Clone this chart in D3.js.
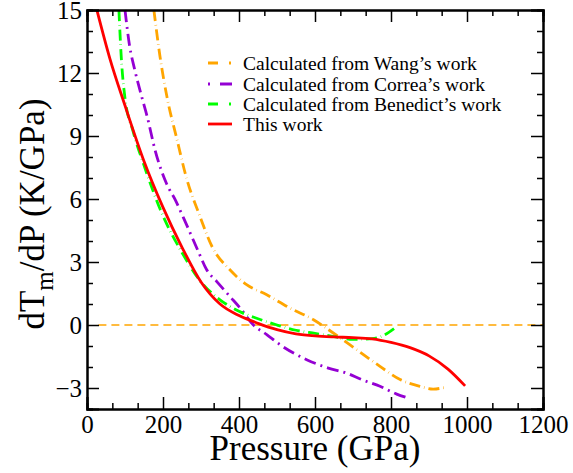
<!DOCTYPE html>
<html>
<head>
<meta charset="utf-8">
<script src="https://cdn.jsdelivr.net/npm/d3@7"></script>
<style>
  body { margin: 0; background: #fff; }
</style>
</head>
<body>
<div id="chart"></div>
<script>
// Data
const wangP = [176, 192, 210, 237, 263, 294, 330, 376, 420, 473, 534, 596, 648, 710, 771, 824, 876, 911, 947];
const wangV = [15, 12.8, 10.9, 8.82, 6.92, 5.33, 3.7, 2.63, 1.92, 1.44, 0.81, 0.25, -0.38, -1.18, -1.97, -2.6, -2.92, -3.05, -2.95];

const correaP = [100, 112, 125, 145, 158, 180, 210, 232, 254, 293, 315, 341, 376, 403, 438, 473, 508, 578, 635, 683, 723, 771, 815, 840];
const correaV = [15, 13.3, 12.2, 10.8, 9.95, 8.27, 6.7, 5.97, 5.1, 3.5, 2.63, 2.08, 1.36, 0.81, 0.0, -0.46, -0.94, -1.65, -2.05, -2.29, -2.6, -2.92, -3.29, -3.45];

const benedictP = [84, 90, 100, 120, 150, 200, 250, 300, 350, 400, 450, 500, 550, 600, 650, 700, 750, 780, 810];
const benedictV = [15, 12.8, 10.8, 9.3, 7.6, 5.2, 3.45, 2.05, 1.2, 0.65, 0.3, 0.0, -0.25, -0.4, -0.55, -0.68, -0.65, -0.5, -0.15];

const thisP = [26, 60, 100, 150, 200, 250, 300, 350, 400, 450, 500, 550, 600, 650, 700, 750, 800, 850, 900, 950, 995];
const thisV = [15, 12.7, 10.45, 7.8, 5.6, 3.7, 2.05, 1.0, 0.45, 0.08, -0.22, -0.42, -0.52, -0.57, -0.6, -0.66, -0.83, -1.08, -1.47, -2.1, -2.9];

const zeroP = [30, 1200];
const zeroV = [0, 0];

const xTicks = [0, 200, 400, 600, 800, 1000, 1200];
const yTicks = [-3, 0, 3, 6, 9, 12, 15];

const series = [
  { name: "Calculated from Wang\u2019s work", p: wangP, v: wangV, color: "#FFA500", dash: "11,4,0.5,4", legendDash: "10,11,2" },
  { name: "Calculated from Correa\u2019s work", p: correaP, v: correaV, color: "#9400D3", dash: "12,5,2,5", legendDash: "2,10,12" },
  { name: "Calculated from Benedict\u2019s work", p: benedictP, v: benedictV, color: "#00FF00", dash: "11,4,0.5,4", legendDash: "10,11,2" },
  { name: "This work", p: thisP, v: thisV, color: "#FF0000", dash: null, legendDash: null }
];

const FONT = '"Liberation Serif", "Times New Roman", Times, serif';

const W = 573, H = 473;
const margin = { left: 87, right: 30, top: 10, bottom: 64 };
const width = W - margin.left - margin.right;
const height = H - margin.top - margin.bottom;

const svg = d3.select('#chart')
  .append('svg')
  .attr('width', W)
  .attr('height', H)
  .style('font-family', FONT);

const g = svg.append('g')
  .attr('transform', `translate(${margin.left},${margin.top})`);

// Scales
const x = d3.scaleLinear().domain([0, 1200]).range([0, width]);
const y = d3.scaleLinear().domain([-4, 15]).range([height, 0]);

const xMinor = d3.range(0, 1201, 200 / 3).filter(d => Math.abs(d / 200 - Math.round(d / 200)) > 1e-6);
const yMinor = d3.range(-4, 16, 1).filter(d => d % 3 !== 0);

// Zero line
const line = d3.line()
  .x(d => x(d[0]))
  .y(d => y(d[1]));

g.append('path')
  .datum(zeroP.map((p, i) => [p, zeroV[i]]))
  .attr('fill', 'none')
  .attr('stroke', '#FFA500')
  .attr('stroke-width', 1.5)
  .attr('stroke-dasharray', '8,5')
  .attr('d', line);

// Curves
const curve = d3.line()
  .x(d => x(d[0]))
  .y(d => y(d[1]))
  .curve(d3.curveMonotoneX);

series.forEach(s => {
  g.append('path')
    .datum(s.p.map((p, i) => [p, s.v[i]]))
    .attr('fill', 'none')
    .attr('stroke', s.color)
    .attr('stroke-width', 2.8)
    .attr('stroke-dasharray', s.dash)
    .attr('d', curve);
});

// Axes (ticks pointing inward on all four sides)
function axisTicks(axisFn, scale, major, minor, tx, ty, showLabels, pad) {
  const a = g.append('g').attr('transform', `translate(${tx},${ty})`);
  a.call(axisFn(scale).tickValues(minor).tickSize(-6).tickFormat(''));
  a.append('g').call(axisFn(scale).tickValues(major).tickSize(-12).tickPadding(pad)
    .tickFormat(showLabels ? d3.format('d') : ''));
  a.selectAll('g').attr('font-family', null);
  a.attr('font-family', null);
  a.selectAll('.domain').attr('stroke', '#000').attr('stroke-width', 2).attr('fill', 'none');
  a.selectAll('line').attr('stroke', '#000').attr('stroke-width', 1.5);
  a.selectAll('text')
    .style('font-family', FONT)
    .style('font-size', '25px')
    .attr('fill', '#000');
  return a;
}

axisTicks(d3.axisBottom, x, xTicks, xMinor, 0, height, true, 6);
axisTicks(d3.axisTop, x, xTicks, xMinor, 0, 0, false, 8);
const yl = axisTicks(d3.axisLeft, y, yTicks, yMinor, 0, 0, true, 5);
yl.selectAll('text').attr('dy', '0.34em');
axisTicks(d3.axisRight, y, yTicks, yMinor, width, 0, false, 8);

// Axis titles
svg.append('text')
  .attr('x', margin.left + width / 2)
  .attr('y', 460)
  .attr('text-anchor', 'middle')
  .style('font-family', FONT)
  .style('font-size', '35px')
  .text('Pressure (GPa)');

const yt = svg.append('text')
  .attr('transform', `translate(44,${margin.top + 204}) rotate(-90)`)
  .attr('text-anchor', 'middle')
  .style('font-family', FONT)
  .style('font-size', '35px');
yt.append('tspan').text('dT');
yt.append('tspan').attr('dy', 9).style('font-size', '25px').text('m');
yt.append('tspan').attr('dy', -9).text('/dP (K/GPa)');

// Legend
const legend = svg.append('g');
const legendY = [63, 84, 104, 124];
series.forEach((s, i) => {
  legend.append('line')
    .attr('x1', 208).attr('x2', 232)
    .attr('y1', legendY[i]).attr('y2', legendY[i])
    .attr('stroke', s.color)
    .attr('stroke-width', 2.8)
    .attr('stroke-dasharray', s.legendDash);
  legend.append('text')
    .attr('x', 243)
    .attr('y', legendY[i] + 7)
    .style('font-family', FONT)
    .style('font-size', '19.5px')
    .text(s.name);
});
</script>
</body>
</html>
